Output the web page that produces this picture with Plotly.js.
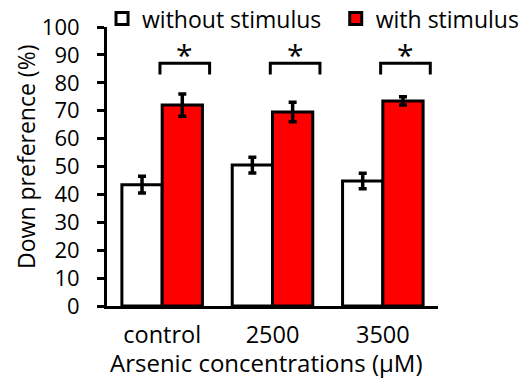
<!DOCTYPE html>
<html><head><meta charset="utf-8">
<script src="https://cdn.plot.ly/plotly-3.0.1.min.js"></script>
<style>html,body{margin:0;padding:0;background:#fff}</style>
</head><body><div id="chart" style="width:520px;height:378px"></div>
<script>
const categories = ["control", "2500", "3500"];
const withoutVals = [43.5, 50.5, 44.8];
const withoutErr = [3.0, 2.8, 2.8];
const withVals = [72.0, 69.5, 73.5];
const withErr = [4.0, 3.5, 1.5];
const seriesNames = ["without stimulus", "with stimulus"];
const xTitle = "Arsenic concentrations (μM)";
const yTitle = "Down preference (%)";
const sigY = 87;
const sigLabel = "*";

const FONT = "'Open Sans', sans-serif";
const traces = [
  {type:"bar", name:seriesNames[0], x:categories, y:withoutVals,
   marker:{color:"#ffffff", line:{color:"#000", width:3}},
   error_y:{type:"data", array:withoutErr, visible:true, color:"#000", thickness:3.5, width:4},
   legend:"legend"},
  {type:"bar", name:seriesNames[1], x:categories, y:withVals,
   marker:{color:"#ff0000", line:{color:"#000", width:3}},
   error_y:{type:"data", array:withErr, visible:true, color:"#000", thickness:3.5, width:4},
   legend:"legend2"}
];
const shapes = [];
const annotations = [];
categories.forEach((c, i) => {
  const x0 = i - 0.02, x1 = i + 0.43;
  shapes.push({type:"path", xref:"x", yref:"y",
    path:`M ${x0} ${sigY-4} L ${x0} ${sigY} L ${x1} ${sigY} L ${x1} ${sigY-4}`,
    line:{color:"#000", width:3}});
  annotations.push({xref:"x", yref:"y", x:(x0+x1)/2, y:sigY+3, text:sigLabel,
    showarrow:false, yanchor:"middle", font:{size:30, color:"#000", family:FONT}});
});
annotations.push({xref:"paper", yref:"paper", x:0.48, y:-0.204, text:xTitle,
  showarrow:false, xanchor:"center", yanchor:"middle", font:{size:24, color:"#000", family:FONT}});
annotations.push({xref:"paper", yref:"paper", x:-0.245, y:0.534, text:yTitle, textangle:-90,
  showarrow:false, xanchor:"center", yanchor:"middle", font:{size:23, color:"#000", family:FONT}});
const layout = {
  width:520, height:378,
  margin:{l:107, r:82, t:27, b:72, autoexpand:false},
  paper_bgcolor:"#fff", plot_bgcolor:"#fff",
  font:{family:FONT, size:21, color:"#000"},
  barmode:"group", bargap:0.27, bargroupgap:0,
  showlegend:true,
  legend:{orientation:"h", x:-0.015, y:1.03, xanchor:"left", yanchor:"middle",
    font:{size:23}, bgcolor:"rgba(0,0,0,0)"},
  legend2:{orientation:"h", x:0.691, y:1.03, xanchor:"left", yanchor:"middle",
    font:{size:23}, bgcolor:"rgba(0,0,0,0)"},
  xaxis:{type:"category", range:[-0.5, 2.5], showline:true, linecolor:"#000", linewidth:3,
    ticks:"", showgrid:false, zeroline:false, tickfont:{size:23.5}, ticklabelstandoff:6},
  yaxis:{range:[0, 100], dtick:10, showline:true, linecolor:"#000", linewidth:3,
    ticks:"outside", ticklen:7, tickwidth:3, tickcolor:"#000", showgrid:false, zeroline:false,
    tickfont:{size:22}, ticklabelstandoff:13},
  shapes:shapes, annotations:annotations
};
Plotly.newPlot("chart", traces, layout, {displayModeBar:false, staticPlot:true});
</script></body></html>
